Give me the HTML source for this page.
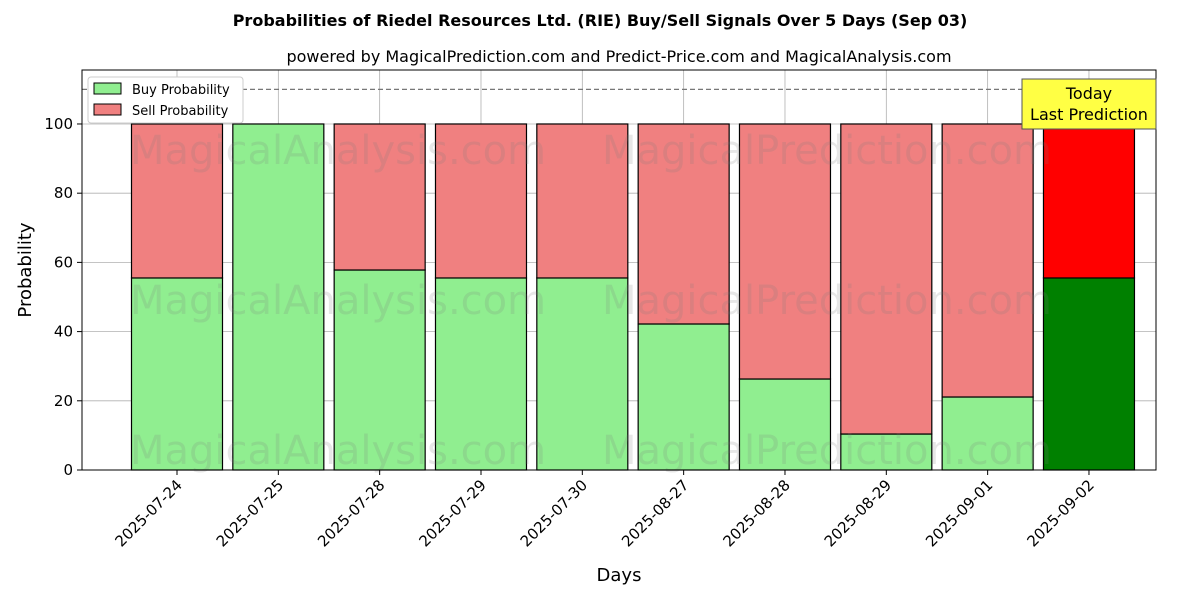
<!DOCTYPE html>
<html><head><meta charset="utf-8"><style>body{margin:0;background:#fff}svg{display:block;font-family:"DejaVu Sans","Liberation Sans",sans-serif}</style></head>
<body>
<svg id="c" width="1200" height="600">
<text x="600" y="26" text-anchor="middle" font-size="16" font-weight="bold">Probabilities of Riedel Resources Ltd. (RIE) Buy/Sell Signals Over 5 Days (Sep 03)</text>
<text x="619" y="62" text-anchor="middle" font-size="16">powered by MagicalPrediction.com and Predict-Price.com and MagicalAnalysis.com</text>
<g id="grid"></g><g id="bars"></g><g id="wm"></g><g id="axes"></g>
</svg>
<script>
const categories=["2025-07-24","2025-07-25","2025-07-28","2025-07-29","2025-07-30","2025-08-27","2025-08-28","2025-08-29","2025-09-01","2025-09-02"];
const buyValues=[55.5,100,57.8,55.5,55.5,42.2,26.3,10.4,21.1,55.5];
const sellValues=[44.5,0,42.2,44.5,44.5,57.8,73.7,89.6,78.9,44.5];
const yTicks=[0,20,40,60,80,100];
const NS="http://www.w3.org/2000/svg";
const L=82,R=1156,T=70,B=470,yMax=115.6;
const y=v=>B-v/yMax*(B-T);
const step=101.33;
const x=i=>L+95+step*i;
const bw=91;
function mk(t,a,p,txt){const e=document.createElementNS(NS,t);for(const k in a)e.setAttribute(k,a[k]);if(txt!==undefined)e.textContent=txt;p.appendChild(e);return e;}
const grid=document.getElementById('grid'),bars=document.getElementById('bars'),axes=document.getElementById('axes'),wm=document.getElementById('wm');
yTicks.forEach(v=>{const g=mk('line',{x1:L,x2:R,y1:y(v),y2:y(v),stroke:'#b0b0b0','stroke-width':0.8},grid);
 mk('line',{x1:L-5,x2:L,y1:y(v),y2:y(v),stroke:'#000'},axes);
 const t=mk('text',{x:L-9,y:y(v)+5,'text-anchor':'end','font-size':15},axes,String(v));});
categories.forEach((c,i)=>{const cx=x(i);
 const g=mk('line',{x1:cx,x2:cx,y1:T,y2:B,stroke:'#b0b0b0','stroke-width':0.8},grid);
 const last=i===categories.length-1;
 const b=mk('rect',{x:cx-bw/2,y:y(buyValues[i]),width:bw,height:B-y(buyValues[i]),fill:last?'#008000':'#90ee90',stroke:'#000','stroke-width':1.2},bars);
 
 const s=mk('rect',{x:cx-bw/2,y:y(buyValues[i]+sellValues[i]),width:bw,height:y(buyValues[i])-y(buyValues[i]+sellValues[i]),fill:last?'#ff0000':'#f08080',stroke:'#000','stroke-width':1.2},bars);
 
 mk('line',{x1:cx,x2:cx,y1:B,y2:B+5,stroke:'#000'},axes);
 const t=mk('text',{x:cx+6,y:B+16,'text-anchor':'end','font-size':15,transform:`rotate(-45 ${cx+6} ${B+16})`},axes,c);});
[[130,150,'MagicalAnalysis.com'],[602,150,'MagicalPrediction.com'],[130,300,'MagicalAnalysis.com'],[602,300,'MagicalPrediction.com'],[130,450,'MagicalAnalysis.com'],[602,450,'MagicalPrediction.com']].forEach(w=>{const t=mk('text',{x:w[0],y:w[1]+14,'font-size':40,fill:'rgba(120,120,120,0.18)'},wm,w[2]);});
const d=mk('line',{x1:L,x2:R,y1:y(110),y2:y(110),stroke:'#777','stroke-dasharray':'5,3','stroke-width':1.2},axes);
const f=mk('rect',{x:L,y:T,width:R-L,height:B-T,fill:'none',stroke:'#000','stroke-width':1},axes);
let t=mk('text',{x:(L+R)/2,y:581,'text-anchor':'middle','font-size':18},axes,'Days');
t=mk('text',{x:31,y:(T+B)/2,'text-anchor':'middle','font-size':18,transform:`rotate(-90 31 ${(T+B)/2})`},axes,'Probability');
const tb=mk('g',{},axes);
mk('rect',{x:1022,y:79,width:134,height:50,fill:'#ffff44',stroke:'#555'},tb);
mk('text',{x:1089,y:99,'text-anchor':'middle','font-size':16},tb,'Today');
mk('text',{x:1089,y:120,'text-anchor':'middle','font-size':16},tb,'Last Prediction');
const lg=mk('g',{},axes);
mk('rect',{x:88,y:77,width:155,height:46,fill:'#fff',stroke:'#ccc',rx:3},lg);
mk('rect',{x:94,y:83,width:27,height:11,fill:'#90ee90',stroke:'#000'},lg);
let le=mk('text',{x:132,y:94,'font-size':13},lg,'Buy Probability');
mk('rect',{x:94,y:104,width:27,height:11,fill:'#f08080',stroke:'#000'},lg);
le=mk('text',{x:132,y:115,'font-size':13},lg,'Sell Probability');
</script>
</body></html>
